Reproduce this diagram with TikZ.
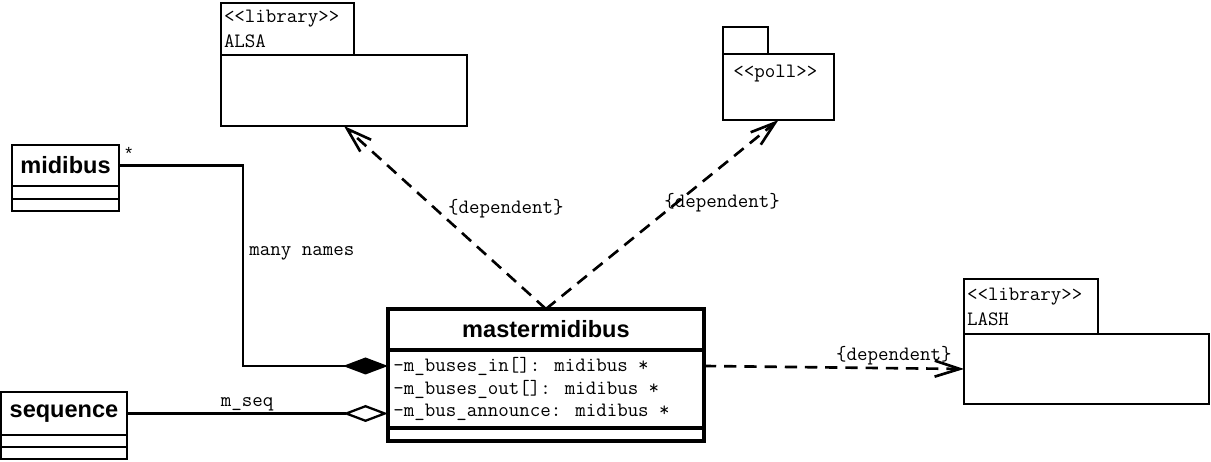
\documentclass[tikz,border=0pt]{standalone}
\usepackage{fontspec}
\setsansfont{Liberation Sans}
\usetikzlibrary{arrows.meta,positioning}

\begin{document}
\begin{tikzpicture}[x=0.02cm, y=-0.02cm,
  box/.style={draw, line width=1.1pt, inner sep=0pt, outer sep=0pt},
  mmbox/.style={box, line width=2.3pt},
  clsname/.style={font=\sffamily\bfseries\fontsize{13.4}{16}\selectfont},
  pkg/.style={draw, line width=1.6pt, inner sep=0pt, outer sep=0pt},
  mono/.style={font=\ttfamily\fontsize{11.6}{14.2}\selectfont, inner sep=0pt},
  assoc/.style={line width=1.3pt},
  dep/.style={line width=1.5pt, dash pattern=on 7pt off 4.5pt,
    -{Straight Barb[length=0.5cm, width=0.32cm]}}]
\useasboundingbox (0,0) rectangle (1211,462);

% midibus class
\node[box, clsname, minimum width=2.14cm, minimum height=0.82cm, anchor=north west] (midibus) at (12,145) {midibus};
\node[box, minimum width=2.14cm, minimum height=0.26cm, below=0pt of midibus] (midibusattr) {};
\node[box, minimum width=2.14cm, minimum height=0.24cm, below=0pt of midibusattr] (midibusops) {};

% sequence class
\node[box, clsname, minimum width=2.52cm, minimum height=0.86cm, anchor=north west] (sequence) at (1,392) {sequence};
\node[box, minimum width=2.52cm, minimum height=0.24cm, below=0pt of sequence] (sequenceattr) {};
\node[box, minimum width=2.52cm, minimum height=0.24cm, below=0pt of sequenceattr] (sequenceops) {};

% mastermidibus class
\node[mmbox, clsname, minimum width=6.32cm, minimum height=0.82cm, anchor=north west] (mm) at (388,309) {mastermidibus};
\node[mmbox, minimum width=6.32cm, minimum height=1.56cm, below=0pt of mm] (mmattr) {};
\node[mmbox, minimum width=6.32cm, minimum height=0.26cm, below=0pt of mmattr] (mmops) {};
\node[mono, anchor=west] (bin) at ([shift={(0.1cm,-0.32cm)}]mmattr.north west) {-m\_buses\_in[]: midibus *};
\node[mono, anchor=west] (bout) at ([shift={(0.1cm,-0.78cm)}]mmattr.north west) {-m\_buses\_out[]: midibus *};
\node[mono, anchor=west] (bann) at ([shift={(0.1cm,-1.24cm)}]mmattr.north west) {-m\_bus\_announce: midibus *};

% ALSA package
\node[pkg, minimum width=4.92cm, minimum height=1.42cm, anchor=north west] (alsa) at (221,55) {};
\node[pkg, mono, minimum width=2.66cm, minimum height=1.04cm, text width=2.54cm, align=left,
  above right=0pt and 0pt of alsa.north west] (alsatab) {<<library>>\\ALSA};

% poll package
\node[pkg, minimum width=2.22cm, minimum height=1.32cm, anchor=north west] (poll) at (723,54) {};
\node[pkg, minimum width=0.9cm, minimum height=0.54cm, above right=0pt and 0pt of poll.north west] (polltab) {};
\node[mono, anchor=west] (polltext) at ([shift={(0.2cm,-0.4cm)}]poll.north west) {<<poll>>};

% LASH package
\node[pkg, minimum width=4.9cm, minimum height=1.4cm, anchor=north west] (lash) at (964,334) {};
\node[pkg, mono, minimum width=2.68cm, minimum height=1.1cm, text width=2.56cm, align=left,
  above right=0pt and 0pt of lash.north west] (lashtab) {<<library>>\\LASH};

% composition and aggregation
\draw[assoc, -{Diamond[length=0.9cm, width=0.34cm]}] (midibus.east)
  node[above right, font=\sffamily, inner sep=3pt] {*} -- ++(124,0)
  |- node[pos=0.22, right, mono, inner sep=3pt] {many names} (mmattr.west |- bin);
\draw[assoc, -{Diamond[open, length=0.9cm, width=0.34cm]}] (sequence.east)
  -- node[pos=0.46, above, mono, inner sep=1pt] {m\_seq} (mmattr.west |- sequence.east);

% dependencies
\draw[dep] (mm.north) -- node[pos=0.55, anchor=west, mono, xshift=0.24cm] {\{dependent\}} (alsa.south);
\draw[dep] (mm.north) -- node[pos=0.56, mono, xshift=0.92cm] {\{dependent\}} (poll.south);
\draw[dep] (mmattr.east |- bin) -- node[pos=0.73, above, mono, inner sep=1pt] {\{dependent\}} (lash.west);
\end{tikzpicture}
\end{document}
